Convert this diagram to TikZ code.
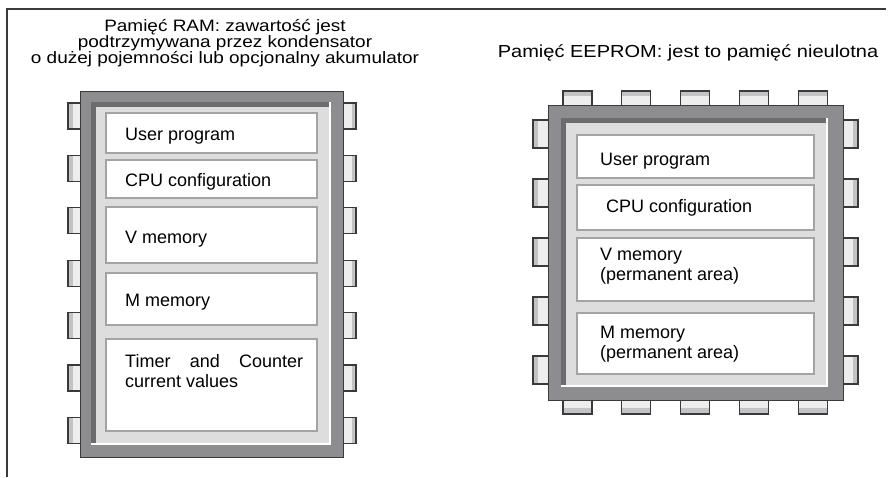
\documentclass[tikz,border=0pt]{standalone}
\usepackage{fontspec}
\setmainfont{Liberation Sans}
\newfontfamily\titlefont[FakeStretch=1.15]{Liberation Sans}
\usepackage{tikz}
\usetikzlibrary{positioning}
\definecolor{bodygray}{HTML}{8D8D8F}
\definecolor{shadowgray}{HTML}{6C6C6E}
\definecolor{panelgray}{HTML}{DDDDDE}
\definecolor{boxgray}{HTML}{A3A3A5}
\definecolor{leadgray}{HTML}{C3C3C5}
\definecolor{leadlight}{HTML}{EDEDEE}
\definecolor{edgegray}{HTML}{3A3A3A}
\tikzset{
  every node/.style={
    font=\fontsize{18}{20}\selectfont,
    inner sep=0pt
  },
  chip title/.style={
    font=\titlefont\fontsize{#1}{16}\selectfont,
    align=center,
    anchor=base
  },
  chip body/.style={
    fill=bodygray,
    draw=edgegray,
    line width=1pt
  },
  chip shadow/.style={
    fill=shadowgray
  },
  chip panel/.style={
    fill=panelgray
  },
  memory box/.style={
    shape=rectangle,
    draw=boxgray,
    line width=2.4pt,
    fill=white,
    minimum width=#1
  },
  memory text/.style={
    anchor=base west,
    align=left
  },
  lead light/.style={
    fill=leadlight
  },
  lead shade/.style={
    fill=leadgray
  },
  lead edge/.style={
    draw=edgegray,
    line width=1.3pt
  },
  frame line/.style={
    draw=edgegray,
    line width=1.2pt
  }
}

\begin{document}
\begin{tikzpicture}[x=1pt,y=-1pt]
  \useasboundingbox (0,0) rectangle (890,477);
  \draw[frame line] (7,477) -- (7,9) -- (886,9);

  % RAM chip
  \node[chip title=16.5] (ramtitle) at (225,63) {Pamięć RAM: zawartość jest\\
    podtrzymywana przez kondensator\\
    o dużej pojemności lub opcjonalny akumulator};
  \foreach \k in {0,...,6} {
    \pgfmathsetmacro\py{103+52.4*\k}
    \fill[lead light] (68,\py) rectangle (81,\py+26);
    \fill[lead shade] (68,\py) rectangle (72.5,\py+26);
    \draw[lead edge] (81,\py) -- (68,\py) -- (68,\py+26) -- (81,\py+26);
    \fill[lead light] (342,\py) rectangle (356,\py+26);
    \fill[lead shade] (351.5,\py) rectangle (356,\py+26);
    \draw[lead edge] (342,\py) -- (356,\py) -- (356,\py+26) -- (342,\py+26);
  }
  \draw[chip body] (80,91) rectangle (343,457);
  \fill[white] (91,102) rectangle (331,445);
  \fill[chip shadow] (91,102) rectangle (328.5,442.5);
  \fill[chip panel] (95.5,106.5) rectangle (328.5,442.5);

  \node[memory box=211pt, minimum height=40pt] (ramuser) at (211.5,133) {};
  \node[memory box=211pt, minimum height=38pt] (ramcpu) at (211.5,179) {};
  \node[memory box=211pt, minimum height=56pt] (ramv) at (211.5,235) {};
  \node[memory box=211pt, minimum height=52pt] (ramm) at (211.5,299) {};
  \node[memory box=211pt, minimum height=92pt] (ramtimer) at (211.5,385) {};
  \node[memory text] (ramusertext) at (125,140) {User program};
  \node[memory text] (ramcputext) at (125,186) {CPU configuration};
  \node[memory text] (ramvtext) at (125,243) {V memory};
  \node[memory text] (ramMtext) at (125,306) {M memory};
  \node[memory text, text width=178pt, align=justify] (ramtimertext) at (125,367)
    {Timer and Counter\linebreak current values};

  % EEPROM chip
  \node[chip title=17.4] (eetitle) at (688,57) {Pamięć EEPROM: jest to pamięć nieulotna};
  \foreach \k in {0,...,4} {
    \pgfmathsetmacro\py{120+59*\k}
    \pgfmathsetmacro\px{563+58.8*\k}
    % side leads
    \fill[lead light] (533,\py) rectangle (549,\py+28);
    \fill[lead shade] (533,\py) rectangle (538,\py+28);
    \draw[lead edge] (549,\py) -- (533,\py) -- (533,\py+28) -- (549,\py+28);
    \fill[lead light] (842,\py) rectangle (858,\py+28);
    \fill[lead shade] (853,\py) rectangle (858,\py+28);
    \draw[lead edge] (842,\py) -- (858,\py) -- (858,\py+28) -- (842,\py+28);
    % top and bottom leads
    \fill[lead light] (\px,91) rectangle (\px+29,106);
    \fill[lead shade] (\px,91) rectangle (\px+29,96);
    \draw[lead edge] (\px,106) -- (\px,91) -- (\px+29,91) -- (\px+29,106);
    \fill[lead light] (\px,399) rectangle (\px+29,414);
    \fill[lead shade] (\px,408) rectangle (\px+29,414);
    \draw[lead edge] (\px,399) -- (\px,414) -- (\px+29,414) -- (\px+29,399);
  }
  \draw[chip body] (548,105) rectangle (843,400);
  \fill[white] (561,118) rectangle (828,387);
  \fill[chip shadow] (561,118) rectangle (825.5,384.5);
  \fill[chip panel] (565.5,122.5) rectangle (825.5,384.5);

  \node[memory box=237pt, minimum height=43pt] (eeuser) at (695.5,156.5) {};
  \node[memory box=237pt, minimum height=45pt] (eecpu) at (695.5,207.5) {};
  \node[memory box=237pt, minimum height=63pt] (eev) at (695.5,269.5) {};
  \node[memory box=237pt, minimum height=61pt] (eem) at (695.5,343.5) {};
  \node[memory text] (eeusertext) at (600,165) {User program};
  \node[memory text] (eecputext) at (606,212) {CPU configuration};
  \node[memory text] (eevtext) at (600,280) {V memory\\(permanent area)};
  \node[memory text] (eemtext) at (600,358) {M memory\\(permanent area)};
\end{tikzpicture}
\end{document}
